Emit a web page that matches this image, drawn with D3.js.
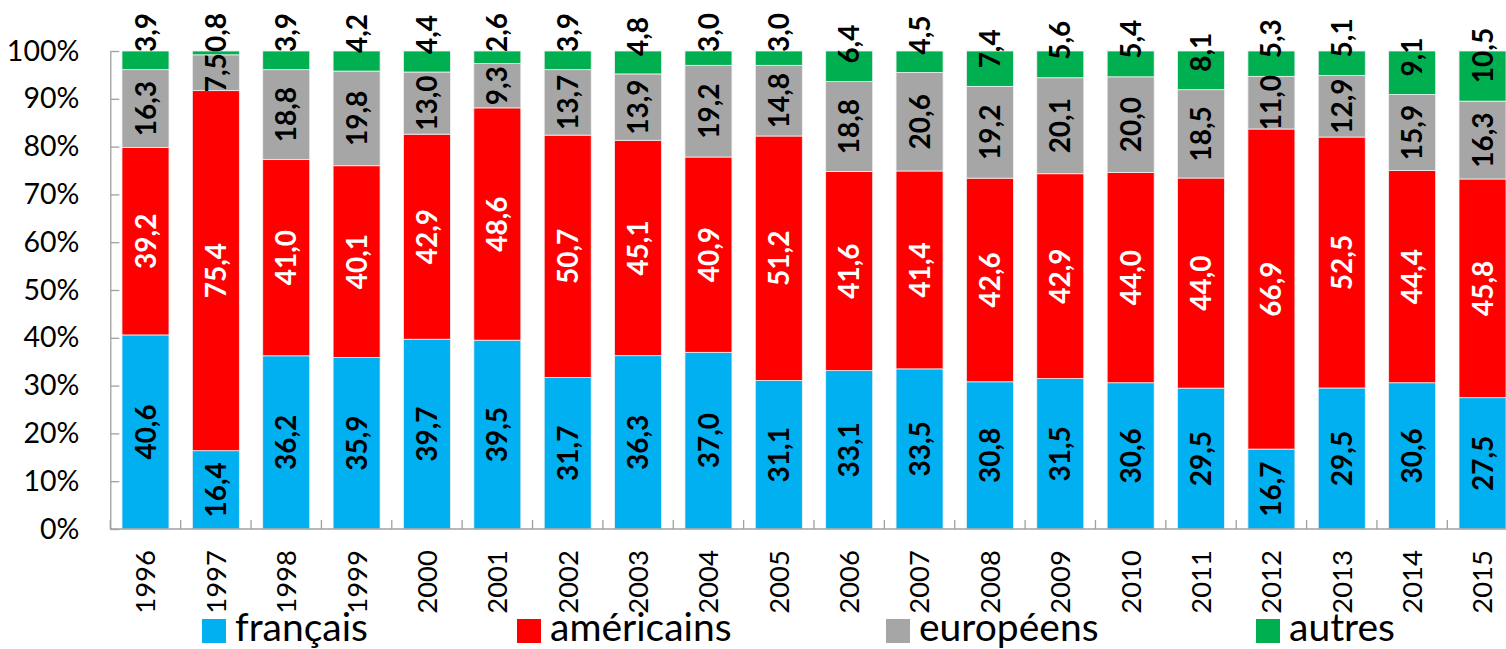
<!DOCTYPE html>
<html>
<head>
<meta charset="utf-8">
<script src="https://cdn.jsdelivr.net/npm/d3@7"></script>
<style>
  html, body { margin: 0; padding: 0; background: #fff; }
  svg { display: block; }
  text { font-family: Lato, "Open Sans", sans-serif; }
</style>
</head>
<body>
<svg id="chart" width="1506" height="649"></svg>
<script>
const years = ["1996","1997","1998","1999","2000","2001","2002","2003","2004","2005","2006","2007","2008","2009","2010","2011","2012","2013","2014","2015"];
const francais   = [40.6,16.4,36.2,35.9,39.7,39.5,31.7,36.3,37.0,31.1,33.1,33.5,30.8,31.5,30.6,29.5,16.7,29.5,30.6,27.5];
const americains = [39.2,75.4,41.0,40.1,42.9,48.6,50.7,45.1,40.9,51.2,41.6,41.4,42.6,42.9,44.0,44.0,66.9,52.5,44.4,45.8];
const europeens  = [16.3,7.5,18.8,19.8,13.0,9.3,13.7,13.9,19.2,14.8,18.8,20.6,19.2,20.1,20.0,18.5,11.0,12.9,15.9,16.3];
const autres     = [3.9,0.8,3.9,4.2,4.4,2.6,3.9,4.8,3.0,3.0,6.4,4.5,7.4,5.6,5.4,8.1,5.3,5.1,9.1,10.5];
const seriesNames = ["français","américains","européens","autres"];
const seriesKeys = ["francais","americains","europeens","autres"];
const yTicks = [0,0.1,0.2,0.3,0.4,0.5,0.6,0.7,0.8,0.9,1.0];

const colors = { francais: "#00B0F0", americains: "#FF0000", europeens: "#A6A6A6", autres: "#00B050" };
const labelColors = { francais: "#000", americains: "#fff", europeens: "#000", autres: "#000" };

const table = years.map((y, i) => ({
  year: y,
  francais: francais[i],
  americains: americains[i],
  europeens: europeens[i],
  autres: autres[i]
}));

const svg = d3.select("#chart");
const plotLeft = 110.3, plotRight = 1517.7, plotTop = 51, plotBottom = 529;

const x = d3.scaleBand().domain(years).range([plotLeft, plotRight])
  .paddingInner(0.332).paddingOuter(0.166);
const y = d3.scaleLinear().domain([0, 1]).range([plotBottom, plotTop]);

const stack = d3.stack().keys(seriesKeys).offset(d3.stackOffsetExpand);
const stacked = stack(table);

const fmt = v => d3.format(".1f")(v).replace(".", ",");

// bars
const g = svg.append("g");
stacked.forEach(s => {
  g.selectAll(null).data(s).enter().append("rect")
    .attr("x", d => x(d.data.year))
    .attr("width", x.bandwidth())
    .attr("y", d => y(d[1]))
    .attr("height", d => y(d[0]) - y(d[1]))
    .attr("fill", colors[s.key])
    .attr("stroke", "#f0f0f0")
    .attr("stroke-width", 0.8);
});

// axes
const axisColor = "#a0a0a0";
const yAxis = d3.axisLeft(y).tickValues(yTicks).tickFormat(d => Math.round(d * 100) + "%")
  .tickSizeInner(-9).tickSizeOuter(0).tickPadding(31);
const yg = svg.append("g").attr("transform", `translate(${plotLeft},0)`).call(yAxis);
yg.select(".domain").attr("stroke", axisColor).attr("stroke-width", 1.3);
yg.selectAll(".tick line").attr("stroke", axisColor).attr("stroke-width", 1.3);
yg.selectAll(".tick text").attr("font-size", 28.5).attr("fill", "#000")
  .style("font-family", "Lato, 'Open Sans', sans-serif");

// x axis line and inside ticks at category boundaries
const xg = svg.append("g");
xg.append("line").attr("x1", plotLeft).attr("x2", plotRight)
  .attr("y1", y(0)).attr("y2", y(0)).attr("stroke", axisColor).attr("stroke-width", 1.3);
const step = x.step();
const boundaries = years.map(yr => x(yr) - (step - x.bandwidth()) / 2);
xg.selectAll(null).data(boundaries).enter().append("line")
  .attr("x1", d => d).attr("x2", d => d)
  .attr("y1", y(0)).attr("y2", y(0) - 9)
  .attr("stroke", axisColor).attr("stroke-width", 1.3);

// year labels
svg.append("g").selectAll(null).data(years).enter().append("text")
  .attr("transform", d => `translate(${x(d) + x.bandwidth() / 2},550) rotate(-90)`)
  .attr("text-anchor", "end")
  .attr("dy", "0.36em")
  .attr("font-size", 27.5)
  .attr("fill", "#000")
  .text(d => d);

// data labels
const lg = svg.append("g");
stacked.forEach(s => {
  s.forEach((d, i) => {
    const raw = table[i][s.key];
    const cx = x(d.data.year) + x.bandwidth() / 2;
    const t = lg.append("text")
      .attr("font-size", 28)
      .attr("font-weight", "bold")
      .attr("fill", labelColors[s.key])
      .attr("dy", "0.36em")
      .text(fmt(raw));
    if (s.key === "autres") {
      const len = t.node().getComputedTextLength();
      const segBottom = y(d[0]);
      const bottom = Math.max(segBottom - 18, 13 + len);
      t.attr("text-anchor", "start")
        .attr("transform", `translate(${cx},${bottom}) rotate(-90)`);
    } else {
      const cy = (y(d[0]) + y(d[1])) / 2;
      t.attr("text-anchor", "middle")
        .attr("transform", `translate(${cx},${cy}) rotate(-90)`);
    }
  });
});

// legend
const legendX = [202, 517, 886, 1256];
const leg = svg.append("g");
seriesKeys.forEach((k, i) => {
  leg.append("rect").attr("x", legendX[i]).attr("y", 619).attr("width", 24).attr("height", 24)
    .attr("fill", colors[k]);
  leg.append("text").attr("x", legendX[i] + 33).attr("y", 641)
    .attr("font-size", 39).attr("fill", "#000").text(seriesNames[i]);
});
</script>
</body>
</html>
